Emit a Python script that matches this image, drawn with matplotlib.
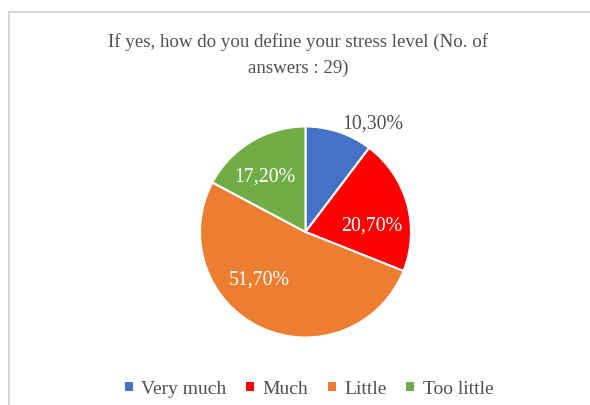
import matplotlib
matplotlib.use("Agg")
import matplotlib.pyplot as plt
from matplotlib.lines import Line2D
from matplotlib.patches import Patch

# stress level answers (share of 29 answers)
categories = ["Very much", "Much", "Little", "Too little"]
shares = [10.30, 20.70, 51.70, 17.20]
colors = ["#4472C4", "#FF0000", "#ED7D31", "#70AD47"]
label_colors = ["#505050", "white", "white", "white"]
# where each percentage label sits, in pie radius units
label_xy = [(0.635, 1.03), (0.630, 0.066), (-0.441, -0.445), (-0.384, 0.53)]
title = "If yes, how do you define your stress level (No. of\nanswers : 29)"

plt.rcParams["font.family"] = ["Liberation Serif", "DejaVu Serif"]

W, H = 590, 406
fig = plt.figure(figsize=(W / 100, H / 100), dpi=100)
fig.patch.set_facecolor("white")

# chart frame: only top and left edges show
fig.add_artist(Line2D([9 / W, 9 / W], [0, 1 - 13 / H], color="#D0D0D0", lw=1.2))
fig.add_artist(Line2D([9 / W, 1], [1 - 13 / H, 1 - 13 / H], color="#D0D0D0", lw=1.2))

fig.text(298 / W, 1 - 55 / H, title, ha="center", va="center",
         fontsize=13.6, color="#505050", linespacing=1.6)

# pie: centre (305.5, 233), radius 105.5 px
cx, cy, r = 305.5, 233, 105.5
ax = fig.add_axes([(cx - r) / W, 1 - (cy + r) / H, 2 * r / W, 2 * r / H])
wedges, _ = ax.pie(shares, colors=colors, startangle=90, counterclock=False,
                   wedgeprops=dict(edgecolor="white", linewidth=1.5))
ax.set_xlim(-1, 1)
ax.set_ylim(-1, 1)
ax.set_aspect("equal")
ax.axis("off")

for s, (x, y), c in zip(shares, label_xy, label_colors):
    ax.text(x, y, "{:.2f}%".format(s).replace(".", ","), ha="center", va="center",
            fontsize=14.3, color=c, clip_on=False)

handles = [Patch(facecolor=c, edgecolor="none") for c in colors]
fig.legend(handles, categories, loc="center", bbox_to_anchor=(309 / W, 1 - 390 / H),
           ncol=4, frameon=False, fontsize=14, handlelength=0.4, handleheight=0.4,
           handletextpad=0.45, columnspacing=1.0, labelcolor="#505050")

fig.savefig("out.png", dpi=100)
